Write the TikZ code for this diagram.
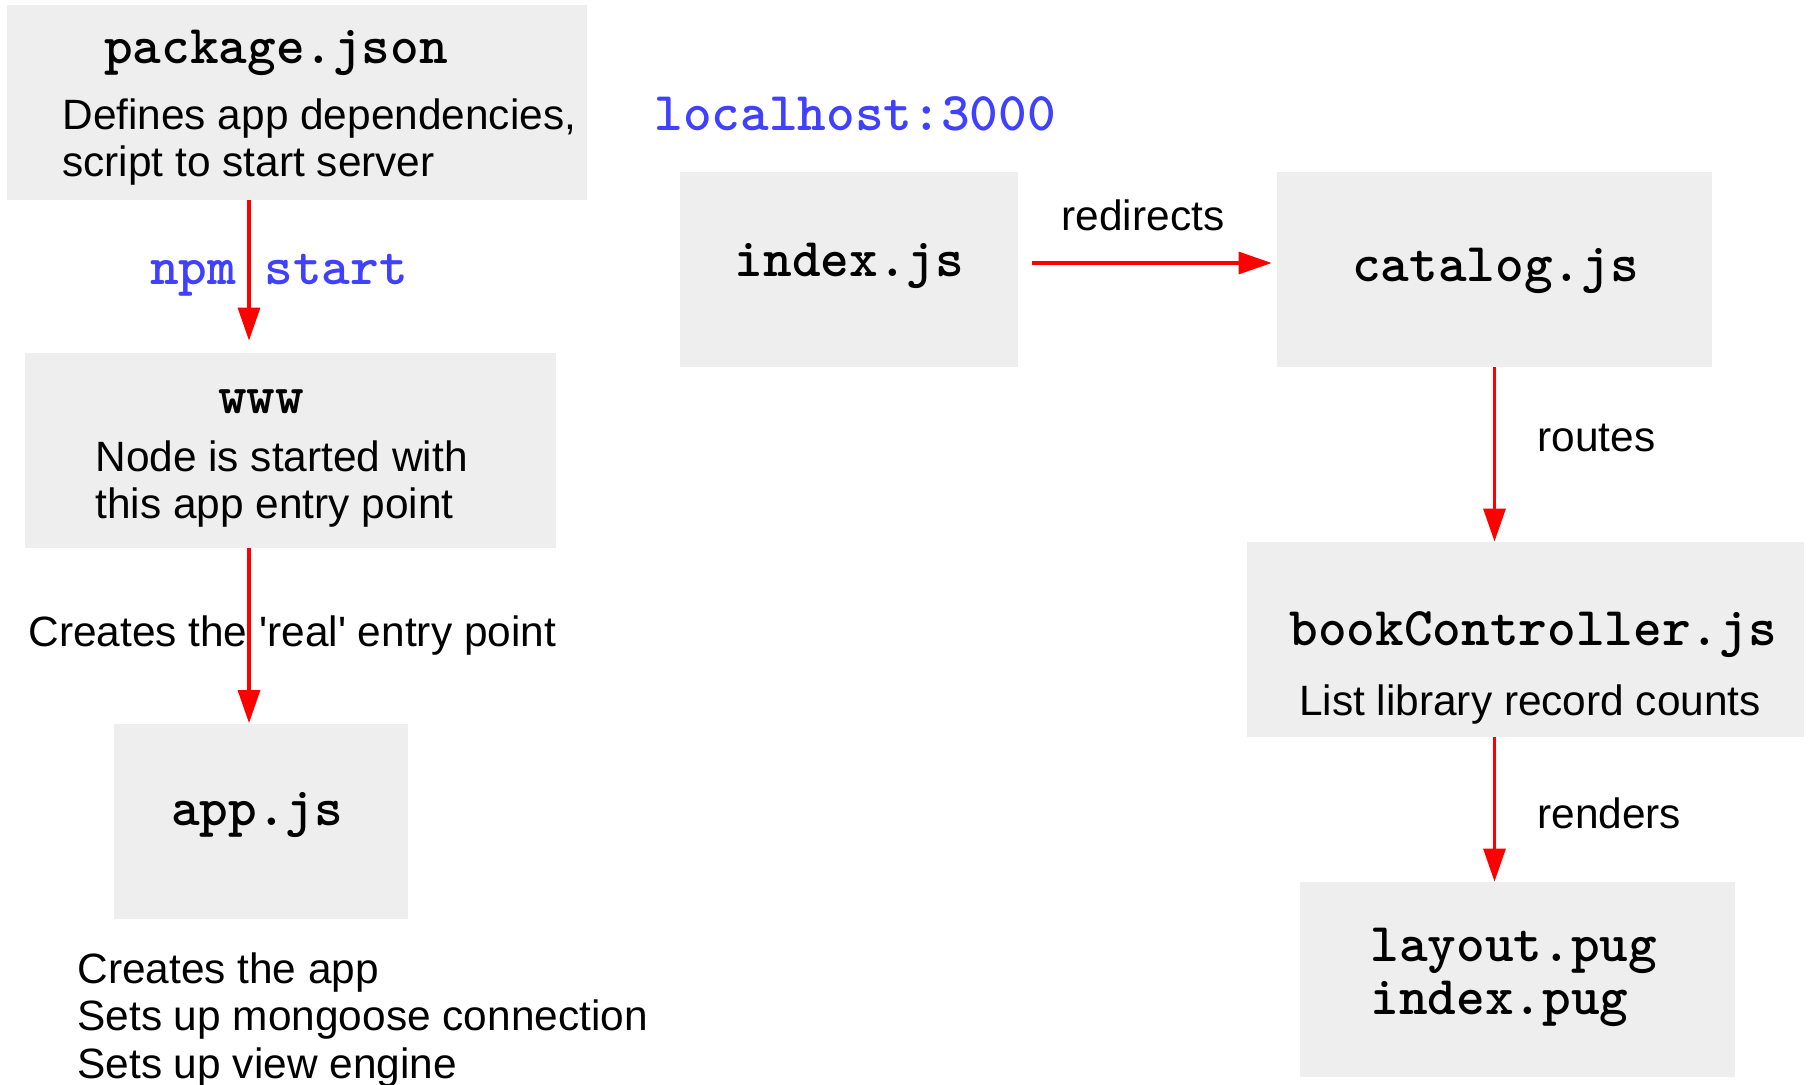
\documentclass[tikz,border=0pt]{standalone}
\usepackage{fontspec}
\setmainfont{Liberation Sans}[Ligatures=TeXOff]
\usetikzlibrary{arrows.meta}
\definecolor{boxgray}{HTML}{EEEEEE}
\definecolor{cmdblue}{RGB}{64,64,255}

\begin{document}
\begin{tikzpicture}[x=0.5pt,y=-0.5pt,
      every node/.style={inner sep=0pt},
      box/.style={fill=boxgray,minimum height=97.5pt},
      code/.style={font=\fontsize{27.3}{26.5}\selectfont\ttfamily\bfseries},
      cmd/.style={code,text=cmdblue},
      note/.style={font=\fontsize{21.2}{23.7}\selectfont},
      flow/.style={draw=red,line width=1.6pt,
        -{Triangle[length=16.5pt,width=11pt]}}]
    \useasboundingbox (0,0) rectangle (1808,1085);
    % boxes
    \node[box,minimum width=290pt] (pkg) at (297,102.5) {};
    \node[box,minimum width=265.5pt] (www) at (290.5,450.5) {};
    \node[box,minimum width=147pt] (app) at (261,821) {};
    \node[box,minimum width=169pt] (index) at (849,269.5) {};
    \node[box,minimum width=217.5pt] (catalog) at (1494.5,269.5) {};
    \node[box,minimum width=278.5pt] (ctrl) at (1525.5,639.5) {};
    \node[box,minimum width=217.5pt] (pug) at (1517.5,979.5) {};
    % left column (multi-line notes sit on their last baseline)
    \node[code,anchor=base] (pkgname) at (276,64) {package.json};
    \node[note,anchor=base west,align=left] (pkgnote) at (62,177)
      {Defines app dependencies,\\script to start server};
    \node[cmd,anchor=base] (npm) at (279,285) {npm start};
    \node[code,anchor=base] (wwwname) at (261,413) {www};
    \node[note,anchor=base west,align=left] (wwwnote) at (95,518.5)
      {Node is started with\\this app entry point};
    \node[note,anchor=base west] (real) at (28,646)
      {Creates the 'real' entry point};
    \node[code,anchor=base] (appname) at (257,825) {app.js};
    \node[note,anchor=base west,align=left] (appnote) at (77,1078)
      {Creates the app\\Sets up mongoose connection\\Sets up view engine};
    % right side
    \node[cmd,anchor=base] (host) at (855,131) {localhost:3000};
    \node[code,anchor=base] (indexname) at (849.5,277) {index.js};
    \node[note,anchor=base] (redir) at (1143,231) {redirects};
    \node[code,anchor=base] (catname) at (1495.5,282) {catalog.js};
    \node[note,anchor=base west] (routes) at (1537,451) {routes};
    \node[code,anchor=base] (ctrlname) at (1533,645) {bookController.js};
    \node[note,anchor=base] (ctrlnote) at (1530,715)
      {List library record counts};
    \node[note,anchor=base west] (renders) at (1537,828) {renders};
    \node[code,anchor=base west,align=left] (pugname) at (1370,1014)
      {layout.pug\\index.pug};
    % connectors
    \coordinate (lx) at (249,0);
    \draw[flow] (lx |- pkg.south) -- ([yshift=6pt]lx |- www.north);
    \draw[flow] (lx |- www.south) -- (lx |- app.north);
    \draw[flow] ([shift={(14,-6.5)}]index.east) -- ([shift={(-5,-6.5)}]catalog.west);
    \draw[flow] (catalog.south) -- (catalog.south |- ctrl.north);
    \draw[flow] (catalog.south |- ctrl.south) -- (catalog.south |- pug.north);
\end{tikzpicture}
\end{document}
